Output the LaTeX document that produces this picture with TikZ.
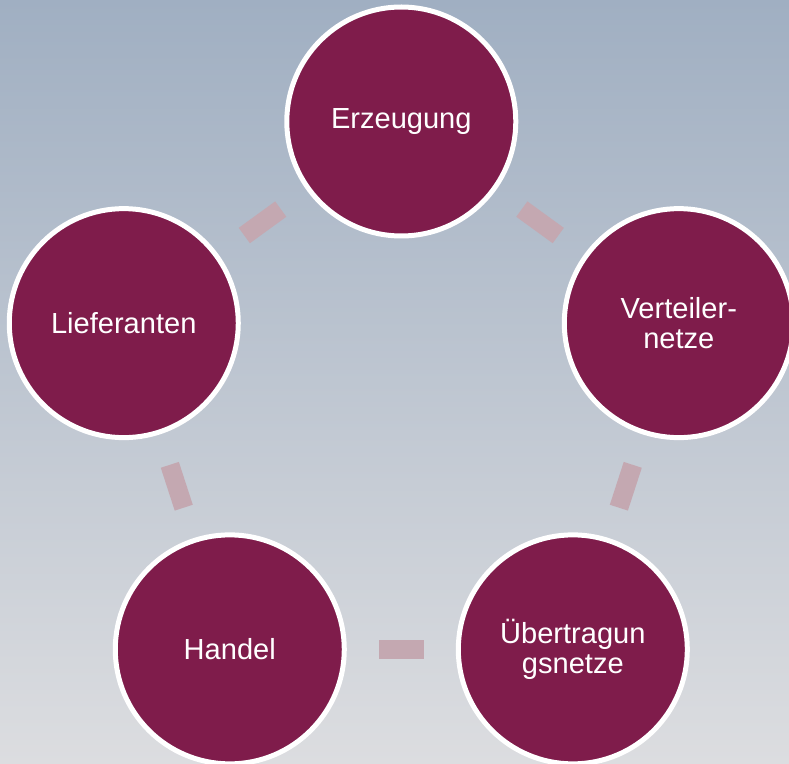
\documentclass[tikz,border=0pt]{standalone}
\usepackage{fontspec}
\setmainfont{Liberation Sans}
\definecolor{fondhaut}{RGB}{160,175,194}
\definecolor{fondbas}{RGB}{220,221,224}
\definecolor{bordeaux}{RGB}{127,28,75}
\definecolor{liaison}{RGB}{196,168,177}
\tikzset{
  etape/.style={circle, fill=bordeaux, draw=white, line width=0.15cm,
    minimum size=6.87cm, inner sep=0pt, text=white, align=center,
    font=\fontsize{24.8}{25.6}\selectfont},
  lien/.style={draw=liaison, line width=0.57cm, shorten >=0.96cm, shorten <=0.96cm}
}
\begin{document}
\begin{tikzpicture}

  % Fond en dégradé
  \shade[top color=fondhaut, bottom color=fondbas] (-12.039,-10.521) rectangle (11.631,12.399);
  \useasboundingbox (-12.039,-10.521) rectangle (11.631,12.399);

  % Cercles sur un pentagone
  \foreach \ang/\nom/\texte in {90/erz/Erzeugung, 18/ver/{Verteiler-\\netze},
      -54/ueb/{Übertragun\\gsnetze}, -126/han/Handel, 162/lie/Lieferanten} {
    \node[etape] (\nom) at (\ang:8.754) {\texte};
  }

  % Liaisons entre les cercles
  \foreach \a/\b in {erz/ver, ver/ueb, ueb/han, han/lie, lie/erz} {
    \draw[lien] (\a) -- (\b);
  }

\end{tikzpicture}
\end{document}
